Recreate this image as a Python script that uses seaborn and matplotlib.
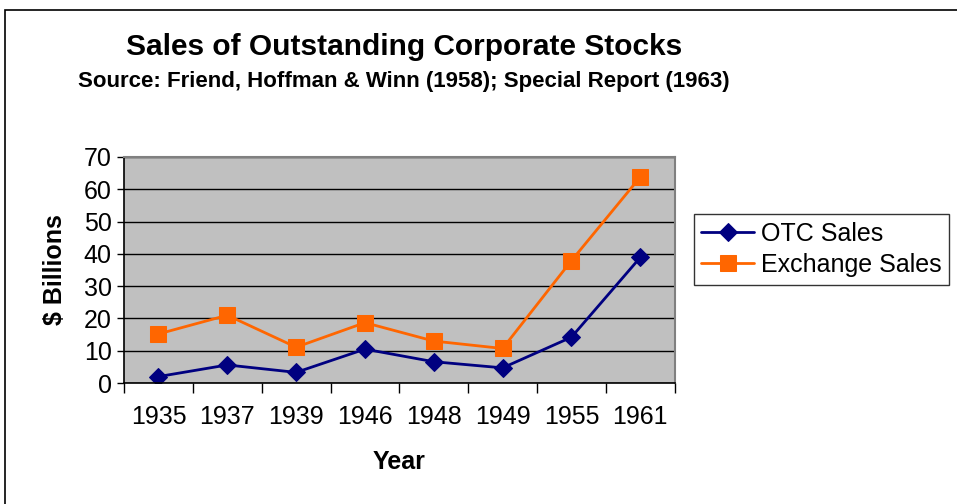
import pandas as pd
import seaborn as sns
import matplotlib.pyplot as plt
from matplotlib.patches import Rectangle

# valores
anos = ["1935", "1937", "1939", "1946", "1948", "1949", "1955", "1961"]
otc = [2.0, 5.6, 3.3, 10.5, 6.6, 4.7, 14.2, 38.9]
bolsa = [15.2, 21.0, 11.1, 18.7, 13.0, 10.7, 37.9, 63.8]

df = pd.DataFrame({"Ano": anos, "OTC": otc, "Exchange": bolsa})

sns.set_style("white")
plt.rcParams['font.family'] = ['Liberation Sans', 'DejaVu Sans']
plt.rcParams.update({"text.color": "black", "axes.labelcolor": "black",
                     "xtick.color": "black", "ytick.color": "black"})

fig = plt.figure(figsize=(9.57, 5.04), dpi=100)
ax = fig.add_axes([0.1296, 0.240, 0.5754, 0.4485])
ax.set_facecolor("#C0C0C0")

sns.lineplot(data=df, x="Ano", y="OTC", ax=ax, color="#000080", marker="D",
             markersize=9, linewidth=2, markeredgecolor="#000080",
             label="OTC Sales", sort=False)
sns.lineplot(data=df, x="Ano", y="Exchange", ax=ax, color="#FF6600", marker="s",
             markersize=11, linewidth=2, markeredgecolor="#FF6600",
             label="Exchange Sales", sort=False)

ax.set_xlim(-0.5, len(anos) - 0.5)
ax.set_ylim(0, 70)
ax.set_yticks(range(0, 71, 10))
ax.yaxis.grid(True, color="black", linewidth=1)
ax.set_axisbelow(True)

# marcas do eixo x entre as categorias
ax.set_xticks([i - 0.5 for i in range(len(anos) + 1)], minor=True)
ax.tick_params(axis="x", which="minor", length=7, width=1, color="black", direction="out")
ax.tick_params(axis="x", which="major", length=0, labelsize=18, pad=16)
ax.tick_params(axis="y", length=5, width=1, color="black", direction="out", labelsize=18, pad=4)
ax.xaxis.set_ticks_position("bottom")
ax.yaxis.set_ticks_position("left")

for s in ["left", "bottom"]:
    ax.spines[s].set_color("black")
    ax.spines[s].set_linewidth(1.2)
for s in ["top", "right"]:
    ax.spines[s].set_color("#808080")
    ax.spines[s].set_linewidth(1.5)

ax.set_xlabel("Year", fontsize=18, fontweight="bold", labelpad=15)
ax.set_ylabel("$ Billions", fontsize=18, fontweight="bold", labelpad=12)

fig.text(0.422, 0.907, "Sales of Outstanding Corporate Stocks", ha="center", va="center",
         fontsize=21.5, fontweight="bold")
fig.text(0.422, 0.838, "Source: Friend, Hoffman & Winn (1958); Special Report (1963)",
         ha="center", va="center", fontsize=16, fontweight="bold")

leg = ax.legend(loc="center left", bbox_to_anchor=(0.725, 0.505), bbox_transform=fig.transFigure,
                fontsize=18, frameon=True, fancybox=False, edgecolor="black",
                handlelength=2.1, borderpad=0.3, labelspacing=0.3, handletextpad=0.3,
                borderaxespad=0)
leg.get_frame().set_linewidth(1)

# moldura da área do gráfico
fig.patches.append(Rectangle((5 / 957, -0.1), 1.2, 1.1 - 10 / 504, transform=fig.transFigure,
                             fill=False, edgecolor="black", linewidth=1.2))

fig.savefig("out.png", dpi=100)
